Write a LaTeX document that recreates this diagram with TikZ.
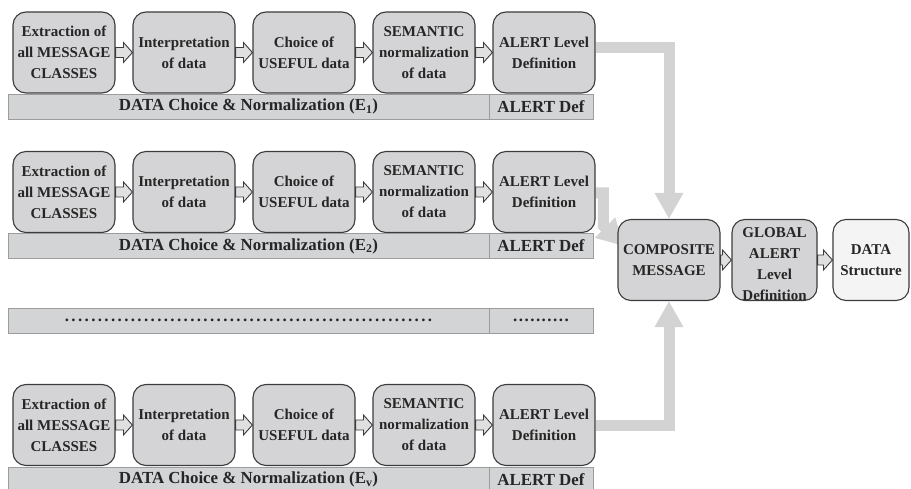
\documentclass[tikz,border=0pt]{standalone}
\usepackage{fontspec}
\setmainfont{Liberation Serif}
\usetikzlibrary{calc}
\usetikzlibrary{arrows.meta}
\definecolor{boxgray}{HTML}{D4D4D6}
\definecolor{bargray}{HTML}{D3D4D6}
\definecolor{barline}{HTML}{9C9C9C}
\definecolor{flowgray}{HTML}{D3D3D3}
\definecolor{edgegray}{HTML}{3C3C3C}
\definecolor{textgray}{HTML}{262626}
\definecolor{lightbox}{HTML}{F4F4F4}
\pgfdeclarelayer{back}
\pgfsetlayers{back,main}

\tikzset{
  stepbox/.style={draw=edgegray, line width=1.1pt, fill=boxgray, rounded corners=13pt,
    minimum width=102pt, minimum height=81pt, inner sep=0pt, align=center,
    text=textgray, font=\fontsize{15}{21}\selectfont\bfseries},
  barbox/.style={draw=barline, line width=0.9pt, fill=bargray, minimum height=25pt,
    inner sep=0pt, text=textgray, font=\fontsize{16.9}{20}\selectfont\bfseries},
  alertbar/.style={barbox, minimum width=104pt},
  smallarrow/.style={draw=edgegray, line width=0.9pt, fill=white!88!black},
  flow/.style={draw=flowgray, line width=11pt, -{Triangle[width=27pt,length=26pt]}}
}

% hollow arrow between two boxes
\newcommand{\blockstep}[2]{%
  \filldraw[smallarrow] ($(#1.east)+(0,-5)$) -- ($(#2.west)+(-9,-5)$)
    -- ($(#2.west)+(-9,-10)$) -- (#2.west) -- ($(#2.west)+(-9,10)$)
    -- ($(#2.west)+(-9,5)$) -- ($(#1.east)+(0,5)$) -- cycle;}

\begin{document}
\begin{tikzpicture}[x=1pt, y=-1pt]
           \useasboundingbox (0,0) rectangle (911,489);

           % First row (E1)
           \node[stepbox] (ext1) at (64,52.5) {Extraction of\\all MESSAGE\\CLASSES};
           \node[stepbox] (int1) at (184,52.5) {Interpretation\\of data};
           \node[stepbox] (cho1) at (304,52.5) {Choice of\\USEFUL data};
           \node[stepbox] (sem1) at (424,52.5) {SEMANTIC\\normalization\\of data};
           \node[stepbox] (alr1) at (544,52.5) {ALERT Level\\Definition};
           \blockstep{ext1}{int1}
           \blockstep{int1}{cho1}
           \blockstep{cho1}{sem1}
           \blockstep{sem1}{alr1}
           \node[barbox, minimum width=481pt] (dcn1) at (248.5,106.5)
             {DATA Choice \& Normalization (E\textsubscript{1})};
           \node[alertbar] (adef1) at (541,106.5) {ALERT Def};

           % Second row (E2)
           \node[stepbox] (ext2) at (64,192) {Extraction of\\all MESSAGE\\CLASSES};
           \node[stepbox] (int2) at (184,192) {Interpretation\\of data};
           \node[stepbox] (cho2) at (304,192) {Choice of\\USEFUL data};
           \node[stepbox] (sem2) at (424,192) {SEMANTIC\\normalization\\of data};
           \node[stepbox] (alr2) at (544,192) {ALERT Level\\Definition};
           \blockstep{ext2}{int2}
           \blockstep{int2}{cho2}
           \blockstep{cho2}{sem2}
           \blockstep{sem2}{alr2}
           \node[barbox, minimum width=481pt] (dcn2) at (248.5,246)
             {DATA Choice \& Normalization (E\textsubscript{2})};
           \node[alertbar] (adef2) at (541,246) {ALERT Def};

           % dotted row
           \node[barbox, minimum width=481pt] (dcnx) at (248.5,320.5)
             {\raisebox{-3pt}{\hbox to 371pt{\cleaders\hbox to 6.6pt{\hss.\hss}\hfill}}};
           \node[barbox, minimum width=104pt] (adefx) at (541,320.5)
             {\raisebox{-3pt}{\hbox to 57pt{\cleaders\hbox to 5.7pt{\hss.\hss}\hfill}}};

           % Last row (Ev)
           \node[stepbox] (ext3) at (64,425) {Extraction of\\all MESSAGE\\CLASSES};
           \node[stepbox] (int3) at (184,425) {Interpretation\\of data};
           \node[stepbox] (cho3) at (304,425) {Choice of\\USEFUL data};
           \node[stepbox] (sem3) at (424,425) {SEMANTIC\\normalization\\of data};
           \node[stepbox] (alr3) at (544,425) {ALERT Level\\Definition};
           \blockstep{ext3}{int3}
           \blockstep{int3}{cho3}
           \blockstep{cho3}{sem3}
           \blockstep{sem3}{alr3}
           \node[barbox, minimum width=481pt] (dcn3) at (248.5,479.5)
             {DATA Choice \& Normalization (E\textsubscript{v})};
           \node[alertbar] (adef3) at (541,479.5) {ALERT Def};

           % Composite message and global alert
           \node[stepbox] (comp) at (669,260) {COMPOSITE\\MESSAGE};
           \node[stepbox, minimum width=85pt] (glob) at (774.5,260) {};
           \node[align=center, inner sep=0pt, text=textgray,
             font=\fontsize{15}{21}\selectfont\bfseries] (globtxt) at (774.5,264)
             {GLOBAL\\ALERT\\Level\\Definition};
           \node[stepbox, minimum width=76pt, fill=lightbox] (data) at (871,260) {DATA\\Structure};
           \blockstep{comp}{glob}
           \blockstep{glob}{data}

           % flows into the composite message
           \coordinate (bend2) at ($(comp.west)+(-14,-34)$);
           \coordinate (into2) at ($(comp.west)+(6,-14)$);
           \begin{pgfonlayer}{back}
             \draw[flow] ($(alr1.east)+(0,-5)$) -| (comp.north);
             \draw[flow] ($(alr2.east)+(0,1)$) -| (bend2) -- (into2);
             \draw[flow] (alr3.east) -| (comp.south);
           \end{pgfonlayer}

\end{tikzpicture}
\end{document}
